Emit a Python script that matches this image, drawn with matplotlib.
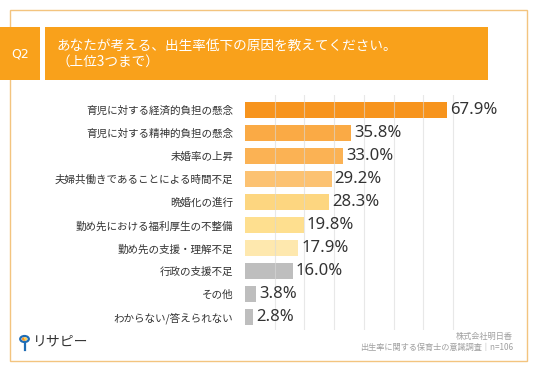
import numpy as np
import matplotlib.pyplot as plt
import matplotlib.patches as patches

plt.rcParams['font.family'] = ['Noto Sans CJK JP', 'DejaVu Sans']

# --- data ---
categories = [
    '育児に対する経済的負担の懸念',
    '育児に対する精神的負担の懸念',
    '未婚率の上昇',
    '夫婦共働きであることによる時間不足',
    '晩婚化の進行',
    '勤め先における福利厚生の不整備',
    '勤め先の支援・理解不足',
    '行政の支援不足',
    'その他',
    'わからない/答えられない',
]
values = [67.9, 35.8, 33.0, 29.2, 28.3, 19.8, 17.9, 16.0, 3.8, 2.8]
bar_colors = ['#F7941D', '#FAAA45', '#FBB254', '#FCC272', '#FDD680',
              '#FEDF8F', '#FEE8AE', '#BEBEBE', '#BEBEBE', '#BEBEBE']
ticks = [10, 20, 30, 40, 50, 60, 70]

title_lines = ['あなたが考える、出生率低下の原因を教えてください。', '（上位3つまで）']
footer_lines = ['株式会社明日香', '出生率に関する保育士の意識調査｜n=106']

W, H = 536, 371
fig = plt.figure(figsize=(W / 100, H / 100), dpi=100)

def px(x, y):
    # pixel coords (top-left origin) -> figure fraction
    return x / W, 1 - y / H

# outer frame
fig.patches.append(patches.Rectangle(px(10, 361), 517 / W, 351 / H, transform=fig.transFigure,
                                     fill=False, edgecolor='#F3C47F', lw=1.0))
# Q2 box and title box
orange = '#F9A11B'
fig.patches.append(patches.Rectangle(px(0, 80), 40 / W, 53 / H, transform=fig.transFigure,
                                     facecolor=orange, edgecolor='none'))
fig.patches.append(patches.Rectangle(px(45, 80), 443 / W, 53 / H, transform=fig.transFigure,
                                     facecolor=orange, edgecolor='none'))
fig.text(*px(20, 54), 'Q2', color='white', fontsize=9, ha='center', va='center',
         family=['DejaVu Sans'])
fig.text(*px(57, 46), title_lines[0], color='white', fontsize=9.8, ha='left', va='center')
fig.text(*px(57, 62), title_lines[1], color='white', fontsize=9.8, ha='left', va='center')

# --- bar axes ---
y_top, y_bot = 95, 330
x0, scale = 245, 2.97  # px at 0 %, px per %
xmax = 72
ax = fig.add_axes([x0 / W, 1 - y_bot / H, xmax * scale / W, (y_bot - y_top) / H])
pos = np.arange(len(categories))
ax.barh(pos, values, height=0.69, color=bar_colors, zorder=2)
ax.set_xlim(0, xmax)
ax.set_ylim(9.55, -0.65)
for t in ticks:
    ax.axvline(t, color='#D9D9D9', lw=0.8, alpha=0.6, zorder=3)
for i, v in enumerate(values):
    ax.text(v + 1.0, i, f'{v:.1f}%', va='center', ha='left', fontsize=12,
            color='#333333', family=['Noto Sans', 'DejaVu Sans'])
ax.set_yticks(pos)
ax.set_yticklabels(categories, fontsize=7.6, color='#333333')
ax.tick_params(axis='y', length=0, pad=8.5)
ax.set_xticks([])
for s in ax.spines.values():
    s.set_visible(False)

# footer
fig.text(*px(513, 336), footer_lines[0], color='#A0A0A0', fontsize=5.9, ha='right', va='center')
fig.text(*px(513, 347), footer_lines[1], color='#A0A0A0', fontsize=5.9, ha='right', va='center')

# logo
fig.patches.append(patches.Circle(px(24.5, 339), 4.3 / W, transform=fig.transFigure,
                                  facecolor='white', edgecolor='#1F6DB5', lw=1.6))
fig.patches.append(patches.Wedge(px(24.5, 339), 2.6 / W, 90, 300, transform=fig.transFigure,
                                 facecolor='#F7941D', edgecolor='none'))
fig.patches.append(patches.Wedge(px(24.5, 339), 2.6 / W, 300, 450, transform=fig.transFigure,
                                 facecolor='#FCD34D', edgecolor='none'))
fig.lines.append(plt.Line2D([24.5 / W, 24.5 / W], [1 - 344 / H, 1 - 350 / H],
                            transform=fig.transFigure, color='#1F6DB5', lw=1.6))
fig.text(*px(33, 341), 'リサピー', color='#333333', fontsize=10, ha='left', va='center')

fig.savefig('out.png', dpi=100, facecolor='white')
